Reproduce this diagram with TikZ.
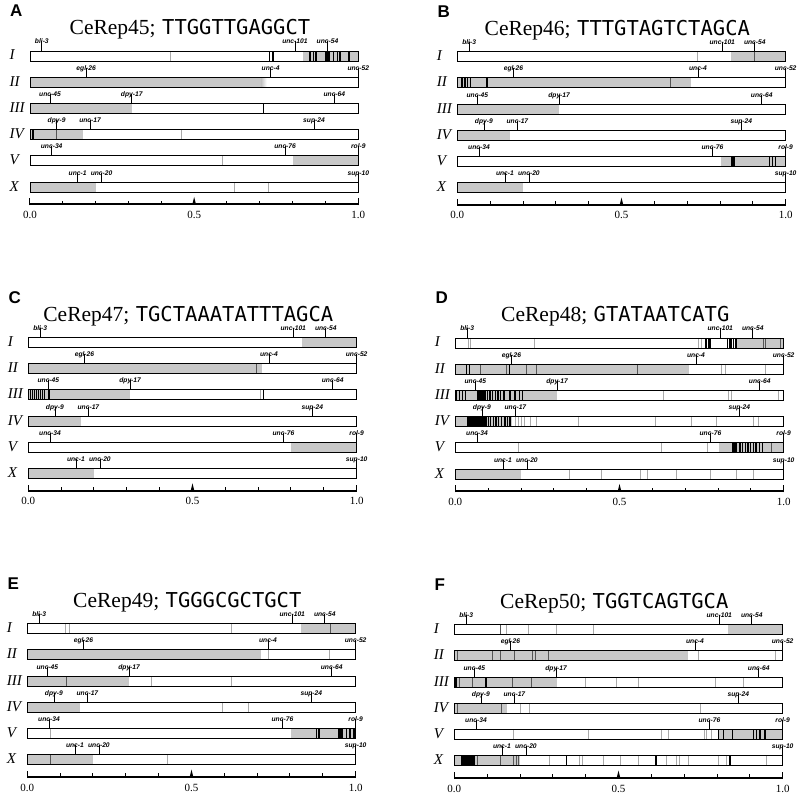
\documentclass[tikz,border=0pt]{standalone}
\usepackage{fontspec}
\setmainfont{Liberation Serif}
\newfontfamily\seqfont{DejaVu Sans Mono}
\newfontfamily\labfont{Liberation Sans}
\definecolor{gfill}{RGB}{200,200,200}
\definecolor{tgray}{RGB}{170,170,170}
\definecolor{dgray}{RGB}{85,85,85}
\tikzset{
  barbox/.style={draw=black, line width=0.9pt},
  kline/.style={draw=black, line width=1.1pt},
  dline/.style={draw=dgray, line width=0.8pt},
  tline/.style={draw=tgray, line width=0.5pt},
  gtick/.style={draw=black, line width=0.8pt},
  genelab/.style={font=\labfont\bfseries\itshape\fontsize{6.7}{7}\selectfont, inner sep=0pt, anchor=base},
  chrlab/.style={font=\itshape\fontsize{15}{15}\selectfont, inner sep=0pt, anchor=base west},
  ttl/.style={inner sep=0pt, anchor=base},
  plet/.style={font=\labfont\bfseries\fontsize{17}{17}\selectfont, inner sep=0pt, anchor=base west},
  axlab/.style={font=\fontsize{11}{11}\selectfont, inner sep=0pt, anchor=base},
}
% row #1 (0..5), positions in local units
\newcommand\Gry[3]{\fill[gfill] (#2,{\pyz+78.7*#1}) rectangle (#3,{\pyz+78.7*#1+30});}
\newcommand\Fade[3]{\shade[left color=gfill,right color=white] (#2,{\pyz+78.7*#1}) rectangle (#3,{\pyz+78.7*#1+30});}
\newcommand\Blok[3]{\fill[black] (#2,{\pyz+78.7*#1}) rectangle (#3,{\pyz+78.7*#1+30});}
\newcommand\Blk[2]{\draw[kline] (#2,{\pyz+78.7*#1}) -- ++(0,30);}
\newcommand\Drk[2]{\draw[dline] (#2,{\pyz+78.7*#1}) -- ++(0,30);}
\newcommand\Thn[2]{\draw[tline] (#2,{\pyz+78.7*#1}) -- ++(0,30);}
\newcommand\Blks[2]{\foreach \q in {#2}{\Blk{#1}{\q}}}
\newcommand\Drks[2]{\foreach \q in {#2}{\Drk{#1}{\q}}}
\newcommand\Thns[2]{\foreach \q in {#2}{\Thn{#1}{\q}}}
\newcommand\genes[1]{%
  \foreach \rw/\fr/\nm [count=\cn] in {0/0.036/bli-3, 0/0.807/unc-101, 0/0.906/unc-54,
     1/0.171/egl-26, 1/0.733/unc-4, 1/1.0/unc-52,
     2/0.061/unc-45, 2/0.31/dpy-17, 2/0.927/unc-64,
     3/0.081/dpy-9, 3/0.183/unc-17, 3/0.865/sup-24,
     4/0.066/unc-34, 4/0.777/unc-76, 4/1.0/rol-9,
     5/0.145/unc-1, 5/0.218/unc-20, 5/1.0/sup-10}{%
    \coordinate (#1g\cn) at ({\pxz+985*\fr},{\pyz+78.7*\rw});
    \node[genelab] (#1l\cn) at ({\pxz+985*\fr},{\pyz+78.7*\rw-21}) {\nm};
    \draw[gtick] (#1g\cn) -- ([yshift=2.5pt]#1l\cn.base);
  }}
% #1 offX #2 offY #3 px0 #4 py0 #5 letter #6 number #7 sequence #8 content
\newcommand\panel[8]{%
  \begin{scope}[shift={(#1,#2)}, x=0.33333pt, y=-0.33333pt]
    \def\pxz{#3}\def\pyz{#4}
    \foreach \rw in {0,...,5}{\fill[white] (\pxz,{\pyz+78.7*\rw}) rectangle ({\pxz+985},{\pyz+78.7*\rw+30});}
    #8
    \foreach \rw in {0,...,5}{\draw[barbox] (\pxz,{\pyz+78.7*\rw}) rectangle ({\pxz+985},{\pyz+78.7*\rw+30});}
    \foreach \rw/\tx in {0/I,1/II,2/III,3/IV,4/V,5/X}{\node[chrlab] (#5c\rw) at ({\pxz-62},{\pyz+78.7*\rw+27}) {\tx};}
    \genes{#5}
    \node[plet] (#5p) at ({\pxz-60},{\pyz-102}) {#5};
    \node[ttl] (#5t) at ({\pxz+480},{\pyz-48}) {\fontsize{21.5}{22}\selectfont CeRep#6;\hspace{0.3em}{\seqfont\fontsize{20.5}{21}\selectfont #7}};
    % axis
    \coordinate (#5a0) at (\pxz,{\pyz+460});
    \coordinate (#5a1) at ({\pxz+985},{\pyz+460});
    \draw[line width=1.8pt] (#5a0) -- (#5a1);
    \foreach \i in {1,2,3,4,6,7,8,9}{\draw[line width=1pt] ({\pxz+98.5*\i},{\pyz+460}) -- ++(0,-11);}
    \draw[line width=1pt] ([yshift=-1pt]#5a0) -- ++(0,-21);
    \draw[line width=1pt] ([yshift=-1pt]#5a1) -- ++(0,-21);
    \fill ({\pxz+487},{\pyz+460}) -- ({\pxz+492.5},{\pyz+438}) -- ({\pxz+498},{\pyz+460}) -- cycle;
    \node[axlab] (#5x0) at (\pxz,{\pyz+502}) {0.0};
    \node[axlab] (#5x5) at ({\pxz+492.5},{\pyz+502}) {0.5};
    \node[axlab] (#5x1) at ({\pxz+985},{\pyz+502}) {1.0};
  \end{scope}}

\begin{document}
\begin{tikzpicture}[x=1pt,y=-1pt]
\useasboundingbox (0,0) rectangle (800,799);
\fill[white] (0,0) rectangle (800,799);

% ---------------- A
\panel{0}{0}{90}{153}{A}{45}{TTGGTTGAGGCT}{%
  \Gry{0}{908}{1075}
  \Thn{0}{512}
  \Blok{0}{806}{811}\Blok{0}{817}{822}
  \Blks{0}{930,940,948,1000,1012,1020,1047}
  \Blok{0}{975}{990}
  \Gry{1}{90}{785}\Fade{1}{785}{800}
  \Gry{2}{90}{395}\Blk{2}{790}
  \Gry{3}{90}{248}\Blok{3}{95}{103}\Drk{3}{170}\Thn{3}{543}
  \Gry{4}{880}{1075}\Thn{4}{668}
  \Gry{5}{90}{287}\Thns{5}{703,805}
}
% ---------------- B
\panel{400}{0}{172}{155}{B}{46}{TTTGTAGTCTAGCA}{%
  \Thn{0}{893}\Gry{0}{992}{1158}\Drk{0}{1063}
  \Gry{1}{172}{872}\Blks{1}{186,195,203,212}\Blok{1}{258}{265}\Drk{1}{812}
  \Gry{2}{172}{478}
  \Gry{3}{172}{330}
  \Gry{4}{962}{1158}\Blks{4}{996,1002,1108,1118,1126}
  \Gry{5}{172}{370}
}
% ---------------- C
\panel{0}{260}{85}{232}{C}{47}{TGCTAAATATTTAGCA}{%
  \Gry{0}{905}{1070}
  \Gry{1}{85}{785}\Drk{1}{770}
  \Gry{2}{85}{390}\Blks{2}{92,98,104,110,116,122,128,134}\Blok{2}{143}{150}\Thn{2}{780}\Blk{2}{790}
  \Gry{3}{85}{243}
  \Gry{4}{873}{1070}
  \Gry{5}{85}{283}
}
% ---------------- D
\panel{400}{260}{166}{234}{D}{48}{GTATAATCATG}{%
  \Thns{0}{204,212,402,895,905}
  \Gry{0}{1012}{1153}
  \Blks{0}{918,925,930,982,990,995,1000,1008}
  \Drks{0}{1090,1097,1140}
  \Gry{1}{166}{868}\Blks{1}{200,208,328}\Drks{1}{240,320,378,410,713}\Thns{1}{965,975,1095}
  \Gry{2}{166}{472}
  \Blks{2}{170,178,188,196,232,236,240,244,248,252,256,262,270,278,286,294,302,312,330,345,358,368}
  \Thns{2}{790,985,995,1135}
  \Gry{3}{166}{335}\Blok{3}{200}{262}
  \Blks{3}{266,272,280,288,296,305,315,322,330}
  \Thns{3}{345,355,365,372,390,410,535,765,873,950,1060,1075}
  \Thns{4}{355,783,922}\Gry{4}{958}{1153}\Blok{4}{997}{1012}
  \Blks{4}{1020,1028,1036,1044,1052,1060,1068,1078,1088}\Drk{4}{1115}
  \Gry{5}{166}{362}\Thns{5}{508,605,722,742,830,932,1010,1060}
}
% ---------------- E
\panel{0}{530}{82}{281}{E}{49}{TGGGCGCTGCT}{%
  \Thns{0}{195,207,695}\Gry{0}{903}{1069}\Drk{0}{992}
  \Gry{1}{82}{782}\Thns{1}{805,988}
  \Gry{2}{82}{388}\Drk{2}{198}\Thns{2}{455,695}
  \Gry{3}{82}{240}\Thns{3}{668,745}
  \Thn{4}{152}\Gry{4}{872}{1069}\Blks{4}{950,957,1040,1050,1062}\Blok{4}{1015}{1030}
  \Gry{5}{82}{280}\Drk{5}{150}\Thn{5}{503}
}
% ---------------- F
\panel{400}{530}{163}{284}{F}{50}{TGGTCAGTGCA}{%
  \Drk{0}{300}\Thns{0}{318,385,470,580}\Gry{0}{985}{1150}
  \Gry{1}{163}{865}\Drks{1}{172,278,300,343,398,405,445}\Thns{1}{895,1125}
  \Gry{2}{163}{470}\Blks{2}{168,258}\Drks{2}{178,218,338,395}\Thns{2}{555,648,715,945,1030}
  \Gry{3}{163}{322}\Drks{3}{172,303}\Thns{3}{360,388,902}
  \Thns{4}{340,565,785,805,912,918,935}\Gry{4}{955}{1150}\Blks{4}{955,970,998,1060,1070,1080,1095}
  \Gry{5}{163}{360}\Blok{5}{183}{225}\Drks{5}{233,300,340,348,355}
  \Thns{5}{448,538,548,610,660,715,800,830,838,865,955,980,1100}\Blks{5}{500,768,990}
}
\end{tikzpicture}
\end{document}
